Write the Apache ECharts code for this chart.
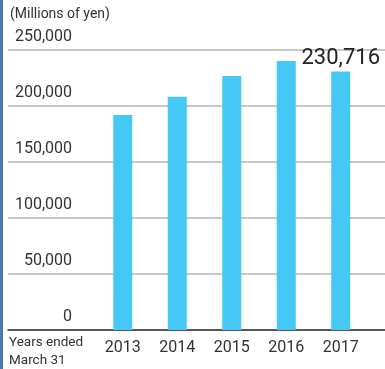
<!DOCTYPE html>
<html>
<head>
<meta charset="utf-8">
<script src="https://cdn.jsdelivr.net/npm/echarts@6/dist/echarts.min.js"></script>
<style>
  html, body { margin: 0; padding: 0; background: #fff; }
  #chart { width: 385px; height: 369px; }
</style>
</head>
<body>
<div id="chart"></div>
<script>
// Net sales by fiscal year
const years = ['2013', '2014', '2015', '2016', '2017'];
const sales = [192000, 208300, 226800, 240200, 230716];
const yMin = 0, yMax = 250000, yStep = 50000;
const unitLabel = '(Millions of yen)';
const periodLabel = 'Years ended\nMarch 31';

const FONT = 'Roboto, "Liberation Sans", sans-serif';
const chart = echarts.init(document.getElementById('chart'), null, { renderer: 'canvas' });

chart.setOption({
  animation: false,
  backgroundColor: '#fff',
  textStyle: { fontFamily: FONT },
  graphic: [
    { type: 'rect', left: 0, top: 0, shape: { width: 3, height: 369 }, style: { fill: '#4a7aae' } },
    { type: 'text', left: 10, top: 7, style: { text: unitLabel, fontSize: 14, fontFamily: FONT, fill: '#333' } },
    { type: 'text', left: 9, top: 334, style: { text: periodLabel, fontSize: 13.5, lineHeight: 18, fontFamily: FONT, fill: '#333' } }
  ],
  grid: [
    { left: 8, right: 0, top: 50, bottom: 39 },
    { left: 95.5, right: 17, top: 50, bottom: 39 }
  ],
  xAxis: [
    {
      gridIndex: 0, type: 'value', min: 0, max: 1, show: true,
      axisLine: { show: true, onZero: false, lineStyle: { color: '#333', width: 1.5 } },
      axisTick: { show: false }, axisLabel: { show: false }, splitLine: { show: false }
    },
    {
      gridIndex: 1, type: 'category', data: years,
      axisLine: { show: false }, axisTick: { show: false },
      axisLabel: { interval: 0, color: '#333', fontSize: 16, fontFamily: FONT, margin: 10 }
    }
  ],
  yAxis: [
    {
      gridIndex: 0, type: 'value', min: yMin, max: yMax, interval: yStep,
      axisLine: { show: false }, axisTick: { show: false },
      axisLabel: {
        inside: true, margin: 64, align: 'right', verticalAlign: 'bottom',
        padding: [0, 0, 5, 0], color: '#333', fontSize: 16, fontFamily: FONT,
        formatter: v => v.toLocaleString('en-US')
      },
      splitLine: { show: true, lineStyle: { color: '#b5b5b5', width: 1.5 } }
    },
    {
      gridIndex: 1, type: 'value', min: yMin, max: yMax, interval: yStep,
      show: false, splitLine: { show: false }
    }
  ],
  series: [{
    type: 'bar',
    xAxisIndex: 1, yAxisIndex: 1,
    data: sales.map((v, i) => i === sales.length - 1
      ? { value: v, label: { show: true } }
      : v),
    barWidth: 19,
    itemStyle: { color: '#45c8f5' },
    label: {
      show: false, position: 'top', distance: 2,
      color: '#222', fontSize: 22, fontFamily: FONT,
      formatter: p => p.value.toLocaleString('en-US')
    }
  }]
});
</script>
</body>
</html>
